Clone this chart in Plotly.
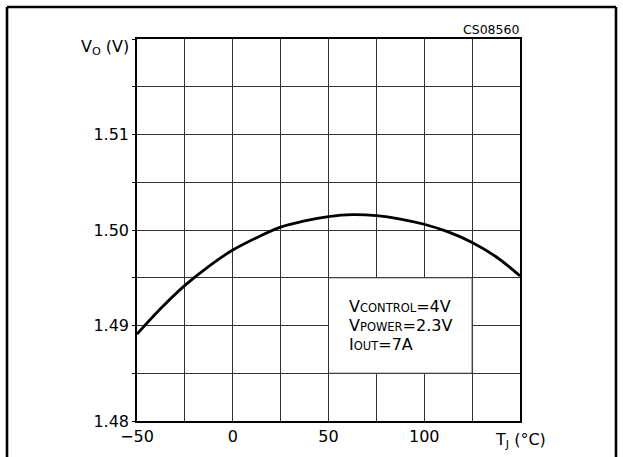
import plotly.graph_objects as go

# Data
temp_c = [-50, -37.5, -25, -12.5, 0, 12.5, 25, 37.5, 50, 62.5, 75, 87.5, 100, 112.5, 125, 137.5, 150]
vout_v = [1.4891, 1.4918, 1.4942, 1.4962, 1.4979, 1.4992, 1.5003, 1.50095, 1.5014, 1.5016,
          1.5015, 1.50115, 1.5006, 1.4998, 1.4987, 1.4972, 1.4952]

x_grid = [-50, -25, 0, 25, 50, 75, 100, 125, 150]
x_labels = ["\u221250", "", "0", "", "50", "", "100", "", ""]
y_grid = [1.48, 1.485, 1.49, 1.495, 1.50, 1.505, 1.51, 1.515, 1.52]
y_labels = ["1.48", "", "1.49", "", "1.50", "", "1.51", "", ""]

cond_lines = [
    "V<span style='font-size:11.5px'>CONTROL</span>=4V",
    "V<span style='font-size:11.5px'>POWER</span>=2.3V",
    "I<span style='font-size:11.5px'>OUT</span>=7A",
]

FONT = "DejaVu Sans"
L, R, T, B = 137, 103, 39, 36
PW, PH = 623 - L - R, 457 - T - B


def px(xp):
    return (xp - L) / PW


def py(yp):
    return (457 - B - yp) / PH


fig = go.Figure()
fig.add_trace(go.Scatter(
    x=temp_c, y=vout_v, mode="lines",
    line=dict(color="black", width=2.8, shape="spline", smoothing=1.0),
    hoverinfo="skip", showlegend=False,
))

fig.update_layout(
    width=623, height=457,
    margin=dict(l=L, r=R, t=T, b=B),
    paper_bgcolor="white", plot_bgcolor="white",
    font=dict(family=FONT, size=16, color="black"),
    showlegend=False,
)
fig.update_xaxes(
    range=[-50, 150], tickvals=x_grid, ticktext=x_labels,
    showgrid=True, gridcolor="#333333", gridwidth=1,
    showline=True, linecolor="black", linewidth=1.5, mirror=True,
    ticks="", zeroline=False, tickfont=dict(size=16), automargin=False,
)
fig.update_yaxes(
    range=[1.48, 1.52], tickvals=y_grid, ticktext=y_labels,
    showgrid=True, gridcolor="#333333", gridwidth=1,
    showline=True, linecolor="black", linewidth=1.5, mirror=True,
    ticks="outside", ticklen=3, tickcolor="black", zeroline=False,
    tickfont=dict(size=16), automargin=False,
)

# white box behind the operating conditions (hides the grid inside it)
fig.add_shape(type="rect", xref="x", yref="y", x0=50, x1=125, y0=1.485, y1=1.495,
              fillcolor="white", line=dict(color="#333333", width=1), layer="above")

# outer frame (open at bottom)
for (x0, y0, x1, y1) in [(px(7), py(470), px(7), py(7)), (px(7), py(7), px(616), py(7)),
                         (px(616), py(7), px(616), py(470))]:
    fig.add_shape(type="line", xref="paper", yref="paper", x0=x0, y0=y0, x1=x1, y1=y1,
                  line=dict(color="black", width=2.6))

# axis titles and labels
fig.add_annotation(xref="paper", yref="paper", x=px(131), y=py(47.5),
                   xanchor="right", yanchor="middle", showarrow=False,
                   text="V<sub>O</sub> (V)", font=dict(size=16))
fig.add_annotation(xref="paper", yref="paper", x=px(520), y=py(440),
                   xanchor="center", yanchor="middle", showarrow=False,
                   text="T<sub>J</sub> (°C)", font=dict(size=16))
fig.add_annotation(xref="paper", yref="paper", x=px(521), y=py(29.5),
                   xanchor="right", yanchor="middle", showarrow=False,
                   text="CS08560", font=dict(size=12.5))

for txt, yp in zip(cond_lines, [306.5, 325.8, 344.8]):
    fig.add_annotation(xref="paper", yref="paper", x=px(347), y=py(yp),
                       xanchor="left", yanchor="middle", showarrow=False,
                       text=txt, font=dict(size=16))

fig.write_html("out.html", config={"displayModeBar": False},
               post_script="document.body.style.margin='0';")
